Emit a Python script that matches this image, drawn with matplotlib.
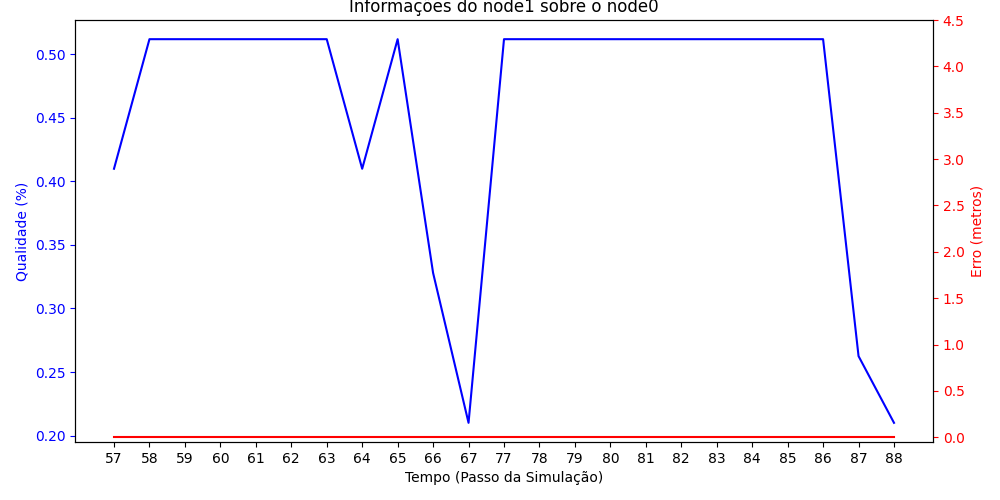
import matplotlib
matplotlib.use('Agg')
import matplotlib.pyplot as plt
import numpy as np

# passos da simulacao (eixo x categorico)
tempo = ['57', '58', '59', '60', '61', '62', '63', '64', '65', '66', '67',
         '77', '78', '79', '80', '81', '82', '83', '84', '85', '86', '87', '88']
qualidade = [0.41, 0.512, 0.512, 0.512, 0.512, 0.512, 0.512, 0.41, 0.512, 0.328, 0.21,
             0.512, 0.512, 0.512, 0.512, 0.512, 0.512, 0.512, 0.512, 0.512, 0.512, 0.2625, 0.21]
erro = [0.0] * len(tempo)

x = list(range(len(tempo)))

fig, ax1 = plt.subplots(figsize=(10, 5), dpi=100)
ax1.plot(x, qualidade, color='b')
ax1.set_xticks(x)
ax1.set_xticklabels(tempo)
ax1.set_xlabel('Tempo (Passo da Simulação)')
ax1.set_ylabel('Qualidade (%)', color='b')
ax1.tick_params(axis='y', colors='b')

ax2 = ax1.twinx()
ax2.plot(x, erro, color='r')
ax2.set_ylim(-0.05, 4.5)
ax2.set_yticks(np.arange(0, 4.51, 0.5))
ax2.set_ylabel('Erro (metros)', color='r')
ax2.tick_params(axis='y', colors='r')

plt.title('Informações do node1 sobre o node0')
plt.subplots_adjust(left=0.075, right=0.933, top=0.96, bottom=0.116)
plt.savefig('out.png')
